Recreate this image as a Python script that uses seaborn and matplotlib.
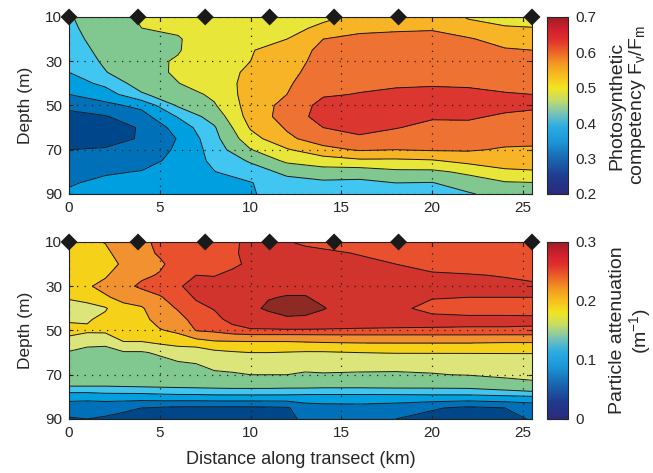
import numpy as np
import matplotlib
matplotlib.use("Agg")
import matplotlib.pyplot as plt
from matplotlib.colors import LinearSegmentedColormap, Normalize
from matplotlib.cm import ScalarMappable
import seaborn as sns

# ---------------- data ----------------
depths = [10, 15, 20, 25, 30, 35, 40, 45, 50, 55, 60, 65, 70, 75, 80, 85, 90]
stations_km = [0, 3.8, 7.5, 11.05, 14.6, 18.15, 25.5]

# Photosynthetic competency Fv/Fm, one profile (10..90 m) per distance
fvfm_km = [0, 2, 4, 6, 8, 10, 12, 14, 16, 18, 20, 22, 24, 25.5]
fvfm_profiles = [
    [0.425, 0.42, 0.415, 0.405, 0.398, 0.39, 0.37, 0.35, 0.323, 0.295, 0.275, 0.28, 0.31, 0.322, 0.334, 0.346, 0.356],
    [0.465, 0.458, 0.45, 0.445, 0.437, 0.428, 0.40, 0.37, 0.34, 0.307, 0.285, 0.29, 0.315, 0.33, 0.345, 0.36, 0.37],
    [0.484, 0.48, 0.475, 0.472, 0.468, 0.463, 0.45, 0.425, 0.36, 0.335, 0.315, 0.315, 0.325, 0.335, 0.352, 0.365, 0.375],
    [0.50, 0.488, 0.476, 0.477, 0.484, 0.486, 0.479, 0.455, 0.435, 0.393, 0.365, 0.352, 0.356, 0.362, 0.366, 0.37, 0.372],
    [0.51, 0.51, 0.51, 0.51, 0.51, 0.505, 0.50, 0.49, 0.475, 0.45, 0.425, 0.415, 0.405, 0.398, 0.389, 0.38, 0.375],
    [0.515, 0.52, 0.525, 0.528, 0.53, 0.54, 0.548, 0.552, 0.552, 0.55, 0.535, 0.51, 0.478, 0.435, 0.41, 0.388, 0.387],
    [0.50, 0.515, 0.53, 0.545, 0.555, 0.565, 0.573, 0.58, 0.595, 0.60, 0.585, 0.57, 0.525, 0.49, 0.44, 0.415, 0.405],
    [0.52, 0.54, 0.58, 0.595, 0.60, 0.605, 0.615, 0.625, 0.645, 0.65, 0.63, 0.605, 0.565, 0.505, 0.46, 0.42, 0.41],
    [0.54, 0.57, 0.59, 0.60, 0.605, 0.61, 0.62, 0.632, 0.655, 0.665, 0.648, 0.62, 0.585, 0.52, 0.455, 0.418, 0.41],
    [0.56, 0.575, 0.59, 0.60, 0.607, 0.615, 0.623, 0.64, 0.66, 0.655, 0.632, 0.61, 0.58, 0.52, 0.47, 0.43, 0.418],
    [0.565, 0.577, 0.59, 0.60, 0.61, 0.617, 0.625, 0.643, 0.652, 0.635, 0.618, 0.60, 0.585, 0.525, 0.47, 0.428, 0.415],
    [0.525, 0.55, 0.585, 0.595, 0.605, 0.615, 0.625, 0.638, 0.645, 0.635, 0.62, 0.60, 0.585, 0.545, 0.49, 0.455, 0.425],
    [0.51, 0.535, 0.56, 0.585, 0.60, 0.61, 0.622, 0.632, 0.64, 0.625, 0.61, 0.595, 0.575, 0.555, 0.52, 0.475, 0.45],
    [0.505, 0.532, 0.555, 0.58, 0.595, 0.605, 0.618, 0.63, 0.637, 0.62, 0.605, 0.59, 0.575, 0.555, 0.525, 0.478, 0.46],
]
fvfm_levels = [0.31, 0.35, 0.39, 0.43, 0.48, 0.53, 0.58, 0.63]

# Particle attenuation (m^-1), one profile (10..90 m) per distance
cp_km = [0, 1, 2, 3, 4, 5, 6, 7, 8, 9, 10, 11, 12, 13, 14, 16, 18, 20, 22, 24, 25.5]
cp_profiles = [
    [0.19, 0.19, 0.19, 0.188, 0.185, 0.182, 0.172, 0.178, 0.185, 0.175, 0.158, 0.15, 0.142, 0.131, 0.097, 0.08, 0.068],
    [0.195, 0.195, 0.195, 0.195, 0.198, 0.185, 0.175, 0.178, 0.183, 0.168, 0.152, 0.148, 0.14, 0.131, 0.097, 0.078, 0.07],
    [0.201, 0.195, 0.192, 0.198, 0.205, 0.198, 0.178, 0.185, 0.184, 0.166, 0.152, 0.148, 0.14, 0.131, 0.10, 0.076, 0.068],
    [0.215, 0.21, 0.203, 0.21, 0.222, 0.205, 0.195, 0.19, 0.188, 0.18, 0.158, 0.15, 0.142, 0.132, 0.10, 0.074, 0.064],
    [0.225, 0.222, 0.215, 0.225, 0.235, 0.215, 0.197, 0.192, 0.19, 0.18, 0.158, 0.152, 0.143, 0.133, 0.10, 0.07, 0.062],
    [0.235, 0.233, 0.226, 0.232, 0.24, 0.228, 0.218, 0.21, 0.198, 0.185, 0.163, 0.153, 0.147, 0.134, 0.102, 0.068, 0.06],
    [0.24, 0.24, 0.24, 0.243, 0.248, 0.24, 0.232, 0.222, 0.205, 0.186, 0.172, 0.157, 0.15, 0.135, 0.103, 0.066, 0.058],
    [0.245, 0.245, 0.247, 0.25, 0.256, 0.252, 0.245, 0.238, 0.231, 0.19, 0.17, 0.16, 0.152, 0.136, 0.103, 0.066, 0.058],
    [0.243, 0.245, 0.247, 0.249, 0.258, 0.253, 0.251, 0.245, 0.235, 0.198, 0.175, 0.165, 0.157, 0.137, 0.104, 0.066, 0.058],
    [0.248, 0.248, 0.246, 0.255, 0.262, 0.262, 0.26, 0.255, 0.244, 0.199, 0.178, 0.167, 0.158, 0.138, 0.104, 0.066, 0.058],
    [0.253, 0.254, 0.254, 0.258, 0.263, 0.266, 0.266, 0.26, 0.248, 0.20, 0.18, 0.168, 0.16, 0.138, 0.104, 0.066, 0.06],
    [0.256, 0.258, 0.26, 0.262, 0.266, 0.269, 0.273, 0.262, 0.248, 0.20, 0.18, 0.168, 0.16, 0.138, 0.104, 0.067, 0.062],
    [0.251, 0.26, 0.262, 0.265, 0.265, 0.271, 0.28, 0.266, 0.248, 0.20, 0.179, 0.167, 0.16, 0.137, 0.104, 0.068, 0.066],
    [0.247, 0.255, 0.26, 0.263, 0.265, 0.271, 0.279, 0.265, 0.248, 0.201, 0.178, 0.166, 0.158, 0.137, 0.103, 0.08, 0.073],
    [0.245, 0.253, 0.257, 0.26, 0.262, 0.266, 0.271, 0.263, 0.248, 0.202, 0.178, 0.165, 0.159, 0.136, 0.103, 0.082, 0.076],
    [0.24, 0.249, 0.254, 0.256, 0.258, 0.259, 0.259, 0.258, 0.248, 0.203, 0.18, 0.166, 0.158, 0.136, 0.103, 0.083, 0.077],
    [0.238, 0.243, 0.25, 0.254, 0.256, 0.256, 0.254, 0.256, 0.248, 0.203, 0.181, 0.165, 0.158, 0.137, 0.103, 0.08, 0.07],
    [0.235, 0.24, 0.245, 0.252, 0.254, 0.251, 0.245, 0.255, 0.248, 0.203, 0.181, 0.166, 0.159, 0.137, 0.104, 0.072, 0.064],
    [0.233, 0.237, 0.242, 0.251, 0.254, 0.25, 0.243, 0.254, 0.248, 0.203, 0.181, 0.167, 0.161, 0.138, 0.104, 0.066, 0.058],
    [0.232, 0.235, 0.24, 0.249, 0.254, 0.25, 0.243, 0.254, 0.248, 0.202, 0.181, 0.169, 0.166, 0.145, 0.106, 0.07, 0.062],
    [0.232, 0.234, 0.238, 0.246, 0.253, 0.25, 0.244, 0.253, 0.248, 0.202, 0.181, 0.17, 0.168, 0.152, 0.108, 0.075, 0.072],
]
cp_levels = [0.07, 0.09, 0.11, 0.13, 0.16, 0.18, 0.20, 0.23, 0.25, 0.27]

# ---------------- style ----------------
sns.set_style("ticks")
plt.rcParams["font.family"] = ["Liberation Sans", "DejaVu Sans"]
plt.rcParams["mathtext.fontset"] = "custom"
plt.rcParams["mathtext.rm"] = "Liberation Sans"
plt.rcParams["mathtext.it"] = "Liberation Sans"
plt.rcParams["mathtext.default"] = "regular"

fvfm_fill = ["#00468a", "#0070b8", "#00a0e0", "#40c6f0", "#80c890",
             "#e9e63a", "#f6b426", "#ee7232", "#dc3630"]
cp_fill = ["#00478a", "#0070b8", "#00a0e0", "#40c6f0", "#80c890", "#dce57a",
           "#f6d11a", "#f29130", "#e8502e", "#d0342c", "#8e2a24"]

bar_cmap = LinearSegmentedColormap.from_list("jetlike", [
    (0.00, "#2b2a7c"), (0.10, "#1f3c8e"), (0.20, "#1868b2"), (0.30, "#1e98d8"),
    (0.38, "#2cace2"), (0.46, "#7cc4b4"), (0.53, "#c4dc68"), (0.60, "#f2e520"),
    (0.67, "#f6bf1e"), (0.74, "#f39622"), (0.80, "#ec6628"), (0.87, "#e2302c"),
    (0.93, "#d11f2e"), (1.00, "#9c1e24")])

fig = plt.figure(figsize=(6.53, 4.73), dpi=100)
ax1 = fig.add_axes([0.1057, 0.5899, 0.709, 0.3742])
cax1 = fig.add_axes([0.8377, 0.5899, 0.0322, 0.3742])
ax2 = fig.add_axes([0.1057, 0.1142, 0.709, 0.3742])
cax2 = fig.add_axes([0.8377, 0.1142, 0.0322, 0.3742])


def panel(ax, km, profiles, levels, fills):
    Z = np.array(profiles).T
    X, Y = np.meshgrid(km, depths)
    lv = [-1.0] + list(levels) + [2.0]
    ax.contourf(X, Y, Z, levels=lv, colors=fills, zorder=0.5)
    ax.contour(X, Y, Z, levels=levels, colors="#1a1a1a", linewidths=0.7, zorder=0.6)
    sns.scatterplot(x=stations_km, y=[10] * len(stations_km), marker="D", s=75,
                    color="#1a1a1a", edgecolor="none", ax=ax, zorder=10,
                    clip_on=False, legend=False)
    ax.set_xlim(0, 25.5)
    ax.set_ylim(90, 10)
    ax.set_xticks([0, 5, 10, 15, 20, 25])
    ax.set_yticks([10, 30, 50, 70, 90])
    ax.set_axisbelow(False)
    ax.grid(True, color="#222222", linestyle=(0, (1, 5)), linewidth=0.9)
    ax.tick_params(direction="in", length=3, top=True, right=True,
                   labelsize=11, pad=5, color="#222222")
    ax.set_ylabel("Depth (m)", fontsize=12.5, labelpad=9)
    ax.set_xlabel("")
    for s in ax.spines.values():
        s.set_linewidth(0.8)
        s.set_color("#222222")


panel(ax1, fvfm_km, fvfm_profiles, fvfm_levels, fvfm_fill)
panel(ax2, cp_km, cp_profiles, cp_levels, cp_fill)
ax2.set_xlabel("Distance along transect (km)", fontsize=13, labelpad=8)


def bar(cax, vmin, vmax, ticks, labels, title):
    cb = fig.colorbar(ScalarMappable(norm=Normalize(vmin, vmax), cmap=bar_cmap),
                      cax=cax, ticks=ticks)
    cb.ax.set_yticklabels(labels)
    cb.outline.set_linewidth(0.8)
    cax.tick_params(direction="in", length=3, left=True, right=True,
                    labelsize=11, pad=5)
    cb.set_label(title, fontsize=14, labelpad=9, linespacing=1.1)


bar(cax1, 0.2, 0.7, [0.2, 0.3, 0.4, 0.5, 0.6, 0.7],
    ["0.2", "0.3", "0.4", "0.5", "0.6", "0.7"],
    "Photosynthetic\ncompetency F$_v$/F$_m$")
bar(cax2, 0.0, 0.3, [0.0, 0.1, 0.2, 0.3], ["0", "0.1", "0.2", "0.3"],
    "Particle attenuation\n(m$^{-1}$)")

fig.savefig("out.png", dpi=100)
